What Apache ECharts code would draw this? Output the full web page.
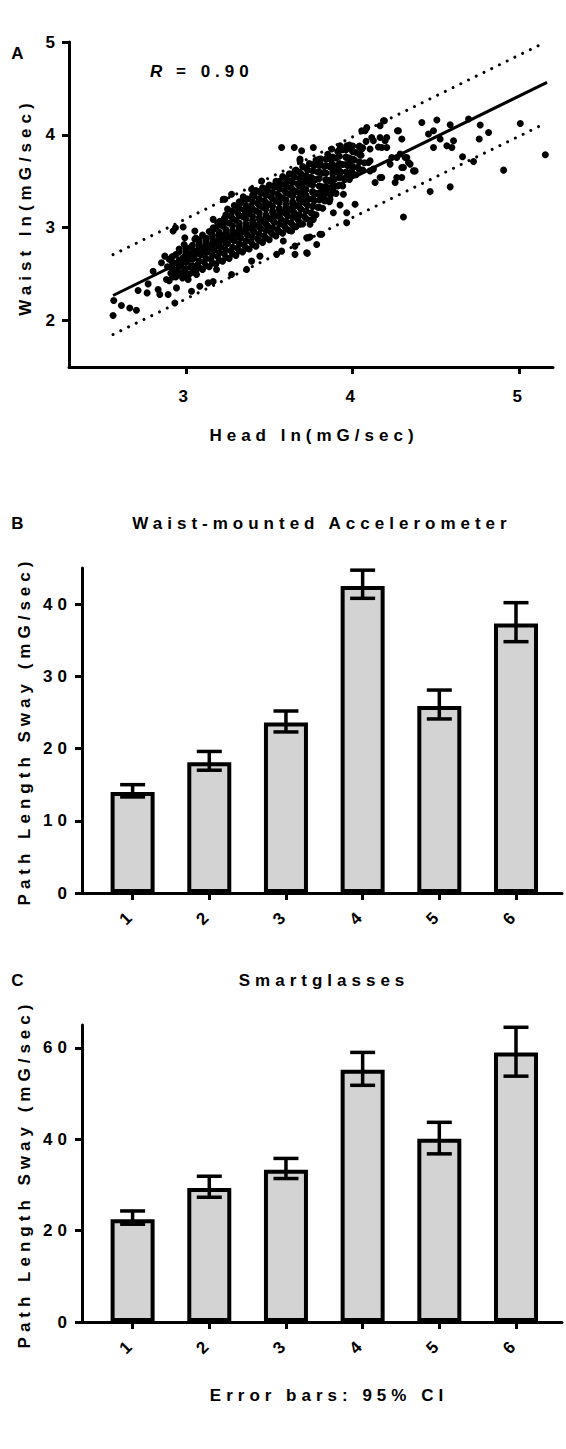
<!DOCTYPE html>
<html>
<head>
<meta charset="utf-8">
<script src="https://cdn.jsdelivr.net/npm/echarts@6/dist/echarts.min.js"></script>
<style>
html,body{margin:0;padding:0;background:#fff;}
#chart{width:566px;height:1449px;}
#chart text{letter-spacing:5px;}
</style>
</head>
<body>
<div id="chart"></div>
<script>
// ---------- Panel A data (Head ln vs Waist ln) ----------
const scatterPoints = [
 [2.568,2.216],[2.564,2.054],[2.614,2.162],[2.664,2.136],[2.704,2.111],[2.714,2.324],[2.768,2.298],[2.774,2.395],
 [2.804,2.532],[2.834,2.335],[2.844,2.281],[2.874,2.694],[2.854,2.622],[2.884,2.443],[2.894,2.281],[2.944,2.352],
 [2.934,2.19],[3.034,2.316],[3.084,2.37],[3.134,2.406],[3.164,2.42],[3.014,2.443],[3.064,2.497],[2.934,2.514],
 [2.914,2.676],[2.994,2.694],[3.044,2.676],[3.104,2.784],[3.184,2.551],[3.274,2.497],[3.364,2.551],[3.394,2.64],
 [3.444,2.694],[3.544,2.713],[3.654,2.713],[3.724,2.73],[3.654,2.802],[3.724,2.892],
 [2.924,2.964],[2.938,3.0],[2.984,3.008],[2.994,2.892],[3.054,2.964],[3.054,2.875],[3.154,2.929],[3.164,3.0],
 [3.234,3.108],[3.204,2.929],[3.164,3.09],[3.204,3.07],[3.244,3.126],[3.314,3.216],[3.374,3.216],[3.224,3.307],
 [3.274,3.36],[3.234,3.307],[3.344,3.332],[3.394,3.415],[3.454,3.504],[3.534,3.45],[3.604,3.504],[3.624,3.504],
 [3.654,3.612],[3.684,3.72],[3.684,3.739],[3.574,3.864],[3.65,3.864],[3.694,3.828],
 [3.764,3.864],[3.874,3.847],[3.924,3.882],[3.964,3.882],[3.994,3.847],[3.984,3.702],[3.994,3.612],[3.964,3.54],
 [3.904,3.648],[3.884,3.432],[3.944,3.36],[3.814,3.432],[3.744,3.54],[3.704,3.36],[3.824,3.324],[3.964,3.162],
 [3.864,3.307],[4.014,3.253],[3.804,2.929],[3.784,2.82],[3.734,2.892],[3.764,3.09],[3.684,3.037],[3.634,2.964],
 [3.584,2.856],[3.574,2.748],[3.728,2.724],[3.814,2.929],[3.744,2.9],[3.744,3.037],[3.924,3.245],[3.884,3.162],
 [3.964,3.054],[3.704,3.486],[3.804,3.702],[3.834,3.432],[3.884,3.45],[3.924,3.54],[3.894,3.648],[3.974,3.54],
 [4.184,4.152],[4.164,4.098],[4.074,4.044],[4.054,4.044],[4.084,4.08],[4.124,3.936],[4.204,3.972],[4.274,4.044],
 [4.294,3.955],[4.204,3.864],[4.154,3.87],[4.104,3.847],[4.054,3.847],[4.264,3.756],[4.314,3.756],[4.334,3.702],
 [4.364,3.612],[4.294,3.648],[4.264,3.54],[4.254,3.486],[4.134,3.486],[4.164,3.54],[4.104,3.612],[4.104,3.72],
 [4.224,3.685],[4.094,3.702],[4.124,3.631],[4.174,3.54],[4.114,3.972],[4.164,3.972],[4.194,3.936],[4.174,3.864],
 [4.234,3.756],[4.284,3.793],[4.324,3.756],[4.344,3.685],[4.374,3.612],[4.304,3.648],[4.294,3.54],
 [4.414,4.134],[4.504,4.16],[4.584,4.109],[4.694,4.171],[4.764,4.106],[4.814,4.026],[4.758,3.955],[5.004,4.123],
 [4.904,3.62],[4.724,3.713],[4.658,3.764],[4.584,3.44],[4.464,3.389],[4.604,3.936],[4.594,3.864],[4.484,3.864],
 [4.524,3.955],[4.454,4.009],[4.484,4.044],[4.564,3.882],[4.304,3.115],[5.154,3.785],[4.268,4.044],[4.19,4.152],
 [2.90,2.43],[2.91,2.51],[2.89,2.58],[2.90,2.66],
 [2.94,2.47],[2.95,2.55],[2.93,2.62],[2.94,2.71],[2.96,2.77],
 [2.98,2.46],[2.99,2.53],[2.97,2.60],[2.98,2.67],[3.00,2.74],[2.99,2.82],
 [3.02,2.50],[3.03,2.58],[3.01,2.64],[3.02,2.72],[3.03,2.79],
 [3.06,2.54],[3.07,2.60],[3.05,2.68],[3.06,2.75],[3.08,2.83],[3.06,2.89],
 [3.10,2.55],[3.11,2.63],[3.09,2.71],[3.10,2.78],[3.12,2.85],[3.10,2.92],
 [3.14,2.58],[3.15,2.66],[3.13,2.74],[3.14,2.80],[3.16,2.88],[3.14,2.96],
 [3.18,2.61],[3.19,2.69],[3.17,2.76],[3.18,2.84],[3.20,2.91],[3.18,2.99],[3.19,3.05],
 [3.22,2.64],[3.23,2.72],[3.21,2.79],[3.22,2.87],[3.24,2.94],[3.22,3.02],[3.23,3.10],
 [3.26,2.67],[3.27,2.75],[3.25,2.83],[3.26,2.90],[3.28,2.97],[3.26,3.05],[3.27,3.13],[3.25,3.20],
 [3.30,2.70],[3.31,2.78],[3.29,2.86],[3.30,2.93],[3.32,3.01],[3.30,3.08],[3.31,3.16],[3.29,3.24],
 [3.34,2.74],[3.35,2.81],[3.33,2.89],[3.34,2.96],[3.36,3.04],[3.34,3.12],[3.35,3.19],[3.33,3.27],
 [3.38,2.77],[3.39,2.85],[3.37,2.92],[3.38,3.00],[3.40,3.08],[3.38,3.15],[3.39,3.23],[3.37,3.31],
 [3.42,2.80],[3.43,2.88],[3.41,2.96],[3.42,3.03],[3.44,3.11],[3.42,3.18],[3.43,3.26],[3.41,3.34],[3.42,3.40],
 [3.46,2.84],[3.47,2.91],[3.45,2.99],[3.46,3.07],[3.48,3.14],[3.46,3.22],[3.47,3.29],[3.45,3.37],[3.46,3.43],
 [3.50,2.87],[3.51,2.95],[3.49,3.02],[3.50,3.10],[3.52,3.18],[3.50,3.25],[3.51,3.33],[3.49,3.40],[3.50,3.46],
 [3.54,2.91],[3.55,2.98],[3.53,3.06],[3.54,3.13],[3.56,3.21],[3.54,3.29],[3.55,3.36],[3.53,3.44],[3.54,3.50],
 [3.58,2.94],[3.59,3.02],[3.57,3.09],[3.58,3.17],[3.60,3.25],[3.58,3.32],[3.59,3.40],[3.57,3.47],[3.58,3.55],
 [3.62,2.97],[3.63,3.05],[3.61,3.13],[3.62,3.20],[3.64,3.28],[3.62,3.36],[3.63,3.43],[3.61,3.51],[3.62,3.58],
 [3.66,3.01],[3.67,3.09],[3.65,3.16],[3.66,3.24],[3.68,3.32],[3.66,3.39],[3.67,3.47],[3.65,3.55],[3.66,3.62],
 [3.70,3.04],[3.71,3.12],[3.69,3.20],[3.70,3.28],[3.72,3.35],[3.70,3.43],[3.71,3.51],[3.69,3.58],[3.70,3.66],
 [3.74,3.08],[3.75,3.16],[3.73,3.24],[3.74,3.31],[3.76,3.39],[3.74,3.47],[3.75,3.54],[3.73,3.62],[3.74,3.69],
 [3.78,3.14],[3.79,3.22],[3.77,3.29],[3.78,3.37],[3.80,3.45],[3.78,3.52],[3.79,3.60],[3.77,3.67],[3.78,3.73],
 [3.82,3.21],[3.83,3.29],[3.81,3.36],[3.82,3.44],[3.84,3.51],[3.82,3.59],[3.83,3.66],[3.81,3.74],
 [3.86,3.28],[3.87,3.36],[3.85,3.43],[3.86,3.51],[3.88,3.58],[3.86,3.66],[3.87,3.73],[3.85,3.79],
 [3.90,3.37],[3.91,3.45],[3.89,3.52],[3.90,3.60],[3.92,3.68],[3.90,3.75],[3.91,3.82],
 [3.94,3.45],[3.95,3.53],[3.93,3.60],[3.94,3.68],[3.96,3.76],[3.94,3.84],
 [3.98,3.52],[3.99,3.59],[3.97,3.67],[3.98,3.75],[4.00,3.82],[3.98,3.89],
 [4.02,3.57],[4.03,3.65],[4.01,3.73],[4.02,3.81],[4.04,3.88],
 [4.06,3.62],[4.07,3.70],[4.05,3.78],[4.06,3.86],[4.08,3.93],
 [2.92,2.47],[2.92,2.55],[2.92,2.62],[2.92,2.69],
 [2.96,2.50],[2.96,2.58],[2.96,2.65],[2.96,2.74],
 [3.00,2.49],[3.00,2.56],[3.00,2.63],[3.00,2.70],[3.00,2.78],
 [3.04,2.52],[3.04,2.59],[3.04,2.66],[3.04,2.73],[3.04,2.81],
 [3.08,2.57],[3.08,2.64],[3.08,2.72],[3.08,2.79],[3.08,2.87],
 [3.12,2.59],[3.12,2.67],[3.12,2.74],[3.12,2.81],[3.12,2.89],
 [3.16,2.62],[3.16,2.70],[3.16,2.77],[3.16,2.84],[3.16,2.92],[3.16,2.98],
 [3.20,2.65],[3.20,2.73],[3.20,2.80],[3.20,2.87],[3.20,2.95],[3.20,3.03],
 [3.24,2.68],[3.24,2.76],[3.24,2.83],[3.24,2.91],[3.24,2.98],[3.24,3.06],[3.24,3.14],
 [3.28,2.72],[3.28,2.79],[3.28,2.87],[3.28,2.94],[3.28,3.02],[3.28,3.10],[3.28,3.18],
 [3.32,2.75],[3.32,2.83],[3.32,2.90],[3.32,2.98],[3.32,3.05],[3.32,3.13],[3.32,3.21],[3.32,3.28],
 [3.36,2.78],[3.36,2.86],[3.36,2.94],[3.36,3.01],[3.36,3.09],[3.36,3.16],[3.36,3.24],[3.36,3.31],
 [3.40,2.82],[3.40,2.90],[3.40,2.97],[3.40,3.05],[3.40,3.12],[3.40,3.20],[3.40,3.28],[3.40,3.35],
 [3.44,2.86],[3.44,2.93],[3.44,3.01],[3.44,3.09],[3.44,3.16],[3.44,3.24],[3.44,3.31],[3.44,3.39],
 [3.48,2.89],[3.48,2.97],[3.48,3.04],[3.48,3.12],[3.48,3.20],[3.48,3.27],[3.48,3.35],[3.48,3.42],
 [3.52,2.93],[3.52,3.00],[3.52,3.08],[3.52,3.16],[3.52,3.23],[3.52,3.31],[3.52,3.38],[3.52,3.45],
 [3.56,2.96],[3.56,3.04],[3.56,3.12],[3.56,3.19],[3.56,3.27],[3.56,3.34],[3.56,3.42],[3.56,3.50],
 [3.60,2.99],[3.60,3.07],[3.60,3.15],[3.60,3.22],[3.60,3.30],[3.60,3.38],[3.60,3.45],[3.60,3.53],
 [3.64,3.03],[3.64,3.11],[3.64,3.18],[3.64,3.26],[3.64,3.34],[3.64,3.41],[3.64,3.49],[3.64,3.57],
 [3.68,3.06],[3.68,3.14],[3.68,3.22],[3.68,3.30],[3.68,3.37],[3.68,3.45],[3.68,3.53],[3.68,3.60],
 [3.72,3.10],[3.72,3.18],[3.72,3.26],[3.72,3.33],[3.72,3.41],[3.72,3.49],[3.72,3.56],[3.72,3.64],
 [3.76,3.15],[3.76,3.23],[3.76,3.31],[3.76,3.38],[3.76,3.46],[3.76,3.53],[3.76,3.61],[3.76,3.68],
 [3.80,3.22],[3.80,3.30],[3.80,3.37],[3.80,3.45],[3.80,3.53],[3.80,3.60],[3.80,3.67],[3.80,3.74],
 [3.84,3.29],[3.84,3.37],[3.84,3.44],[3.84,3.52],[3.84,3.59],[3.84,3.67],[3.84,3.74],
 [3.88,3.38],[3.88,3.46],[3.88,3.53],[3.88,3.61],[3.88,3.68],[3.88,3.76],
 [3.92,3.46],[3.92,3.54],[3.92,3.61],[3.92,3.69],[3.92,3.77],[3.92,3.84],
 [3.96,3.53],[3.96,3.60],[3.96,3.68],[3.96,3.76],[3.96,3.84],
 [4.00,3.58],[4.00,3.66],[4.00,3.74],[4.00,3.82],[4.00,3.88],
 [4.04,3.63],[4.04,3.71],[4.04,3.79],[4.04,3.87]
];
const fitLine   = [[2.564,2.27],[5.164,4.566]];
const upperBand = [[2.564,2.71],[5.134,4.98]];
const lowerBand = [[2.564,1.85],[5.134,4.106]];
const headTicks  = [3,4,5];
const waistTicks = [2,3,4,5];

// ---------- Panels B & C data ----------
const categories   = ['1','2','3','4','5','6'];
const waistMean    = [14.0,18.1,23.6,42.5,25.9,37.3];
const waistLow     = [13.3,17.0,22.3,40.8,24.1,34.8];
const waistHigh    = [15.0,19.6,25.2,44.7,28.1,40.2];
const glassesMean  = [22.5,29.3,33.3,55.2,40.1,59.0];
const glassesLow   = [21.4,27.3,31.4,51.8,36.8,53.8];
const glassesHigh  = [24.3,31.9,35.8,59.0,43.7,64.5];
const waistTicksB  = [0,10,20,30,40];
const glassesTicks = [0,20,40,60];

const FONT = '"Liberation Sans", Arial, Helvetica, sans-serif';
const FS = 17;
const BLACK = '#000';
const labelStyle = {color:BLACK, fontFamily:FONT, fontWeight:'bold', fontSize:FS};
const axisLine = {show:true, onZero:false, lineStyle:{color:BLACK, width:3}};
const tickStyle = (vals)=>({show:true, inside:false, length:7, customValues:vals, lineStyle:{color:BLACK, width:3}});

const catPos = categories.map((c,i)=>i+1);

function errSeries(xi, lo, hi){
  return {
    type:'custom', xAxisIndex:xi, yAxisIndex:xi, silent:true, z:5,
    data: catPos.map((p,i)=>[p, lo[i], hi[i]]),
    renderItem:(params, api)=>{
      const x = api.value(0);
      const a = api.coord([x, api.value(2)]);
      const b = api.coord([x, api.value(1)]);
      const h = 12.5;
      const st = {stroke:BLACK, lineWidth:3.5};
      return {type:'group', children:[
        {type:'line', shape:{x1:a[0],y1:a[1],x2:b[0],y2:b[1]}, style:st},
        {type:'line', shape:{x1:a[0]-h,y1:a[1],x2:a[0]+h,y2:a[1]}, style:st},
        {type:'line', shape:{x1:b[0]-h,y1:b[1],x2:b[0]+h,y2:b[1]}, style:st}
      ]};
    }
  };
}

function txt(text, x, y, o){
  o = o || {};
  return {type:'text', x:x, y:y, rotation:o.rot||0, z:100, silent:true,
    style:{text:text, fill:BLACK, fontFamily:FONT, fontWeight:'bold', fontStyle:o.italic?'italic':'normal',
      fontSize:o.size||FS, align:o.align||'center', verticalAlign:'middle'}};
}

const chart = echarts.init(document.getElementById('chart'), null, {renderer:'svg', width:566, height:1449});

const option = {
  backgroundColor:'#fff',
  animation:false,
  grid:[
    {left:69, top:42, width:484, height:325, outerBoundsMode:'none'},
    {left:82, top:568, width:480, height:325, outerBoundsMode:'none'},
    {left:82, top:1025, width:480, height:297, outerBoundsMode:'none'}
  ],
  xAxis:[
    {type:'value', gridIndex:0, min:2.3, max:5.2, axisLine:axisLine, axisTick:tickStyle(headTicks),
     axisLabel:Object.assign({customValues:headTicks, margin:21}, labelStyle), splitLine:{show:false}},
    {type:'value', gridIndex:1, min:0.34, max:6.6, axisLine:axisLine, axisTick:tickStyle(catPos),
     axisLabel:Object.assign({customValues:catPos, rotate:45, margin:19, formatter:(v)=>categories[Math.round(v)-1]}, labelStyle), splitLine:{show:false}},
    {type:'value', gridIndex:2, min:0.34, max:6.6, axisLine:axisLine, axisTick:tickStyle(catPos),
     axisLabel:Object.assign({customValues:catPos, rotate:45, margin:19, formatter:(v)=>categories[Math.round(v)-1]}, labelStyle), splitLine:{show:false}}
  ],
  yAxis:[
    {type:'value', gridIndex:0, min:1.5, max:5, axisLine:axisLine, axisTick:tickStyle(waistTicks),
     axisLabel:Object.assign({customValues:waistTicks, margin:9}, labelStyle), splitLine:{show:false}},
    {type:'value', gridIndex:1, min:0, max:45, axisLine:axisLine, axisTick:tickStyle(waistTicksB),
     axisLabel:Object.assign({customValues:waistTicksB, margin:10}, labelStyle), splitLine:{show:false}},
    {type:'value', gridIndex:2, min:0, max:65, axisLine:axisLine, axisTick:tickStyle(glassesTicks),
     axisLabel:Object.assign({customValues:glassesTicks, margin:10}, labelStyle), splitLine:{show:false}}
  ],
  series:[
    {type:'scatter', xAxisIndex:0, yAxisIndex:0, data:scatterPoints, symbol:'circle', symbolSize:7,
     itemStyle:{color:BLACK, opacity:1}, silent:true, z:3},
    {type:'line', xAxisIndex:0, yAxisIndex:0, data:fitLine, symbol:'none', silent:true, z:4,
     lineStyle:{color:BLACK, width:3}},
    {type:'line', xAxisIndex:0, yAxisIndex:0, data:upperBand, symbol:'none', silent:true, z:4,
     lineStyle:{color:BLACK, width:3, type:[0.01,8.6], cap:'round'}},
    {type:'line', xAxisIndex:0, yAxisIndex:0, data:lowerBand, symbol:'none', silent:true, z:4,
     lineStyle:{color:BLACK, width:3, type:[0.01,8.6], cap:'round'}},
    {type:'bar', xAxisIndex:1, yAxisIndex:1, data:catPos.map((p,i)=>[p, waistMean[i]]), barWidth:44, silent:true, z:2,
     itemStyle:{color:'#d3d3d3', borderColor:BLACK, borderWidth:4}},
    errSeries(1, waistLow, waistHigh),
    {type:'bar', xAxisIndex:2, yAxisIndex:2, data:catPos.map((p,i)=>[p, glassesMean[i]]), barWidth:44, silent:true, z:2,
     itemStyle:{color:'#d3d3d3', borderColor:BLACK, borderWidth:4}},
    errSeries(2, glassesLow, glassesHigh)
  ],
  graphic:[
    txt('A', 20, 53),
    txt('R', 150, 71, {italic:true, align:'left'}),
    txt('= 0.90', 176, 71, {align:'left'}),
    txt('Waist ln(mG/sec)', 25, 207, {rot:Math.PI/2}),
    txt('Head ln(mG/sec)', 314, 435),
    txt('B', 20, 523),
    txt('Waist-mounted Accelerometer', 322, 523),
    txt('Path Length Sway (mG/sec)', 24, 731, {rot:Math.PI/2}),
    txt('C', 20, 980),
    txt('Smartglasses', 324, 980),
    txt('Path Length Sway (mG/sec)', 24, 1174, {rot:Math.PI/2}),
    txt('Error bars: 95% CI', 329, 1395)
  ]
};
chart.setOption(option);
</script>
</body>
</html>
